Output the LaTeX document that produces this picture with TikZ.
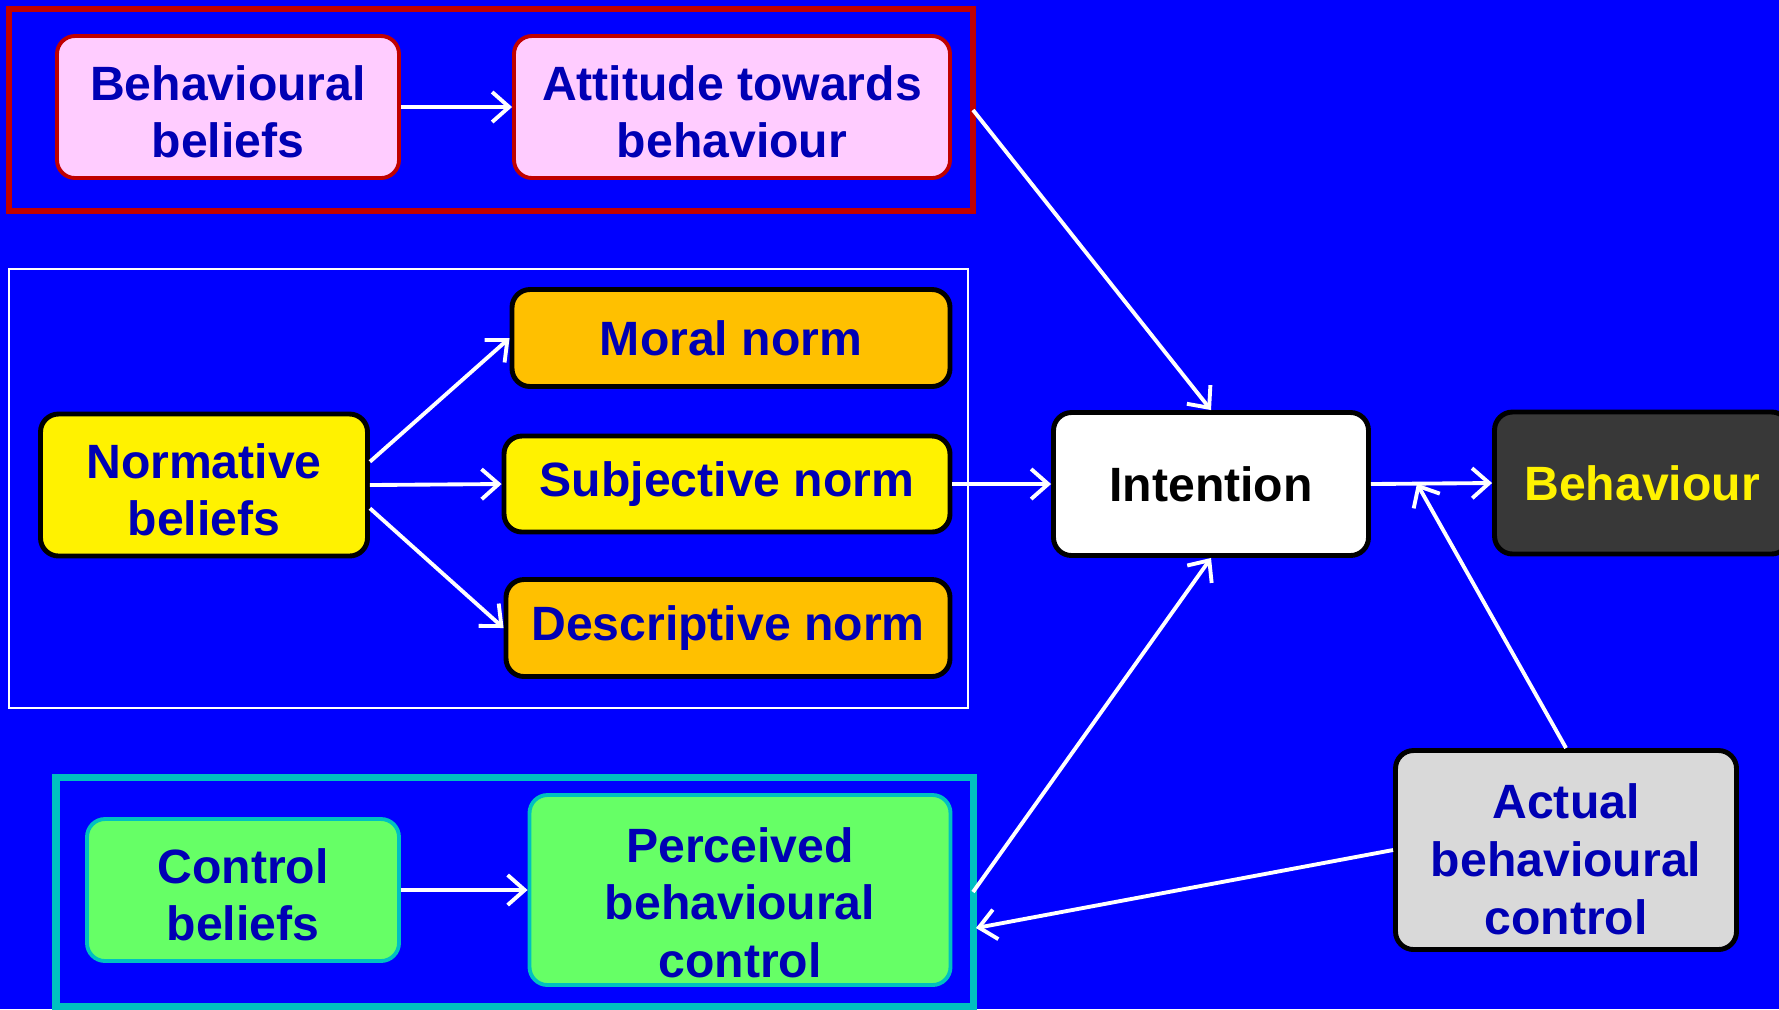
\documentclass[tikz,border=0pt]{standalone}
\usepackage{fontspec}
\setmainfont{Liberation Sans}
\usepackage{tikz}
\usetikzlibrary{arrows.meta}
\usetikzlibrary{calc}
\definecolor{slideblue}{RGB}{0,0,255}
\definecolor{textblue}{RGB}{0,0,180}
\definecolor{darkred}{RGB}{192,0,0}
\definecolor{pinkfill}{RGB}{255,204,255}
\definecolor{orangefill}{RGB}{255,192,0}
\definecolor{greenfill}{RGB}{102,255,102}
\definecolor{cyanline}{RGB}{0,192,192}
\definecolor{lightgrey}{RGB}{217,217,217}
\definecolor{darkgrey}{RGB}{56,56,56}
% taller first line, pushes the text a bit down
\newcommand{\firstline}[1]{\rule{0pt}{#1}}
\tikzset{
    box/.style={draw, rounded corners=1.8mm, align=center, inner sep=0pt,
        font=\fontsize{13.7}{16.4}\selectfont\bfseries, text=textblue},
    attbox/.style={box, fill=pinkfill, draw=darkred, line width=1.1pt},
    normbox/.style={box, fill=orangefill, draw=black, line width=1.4pt},
    yellowbox/.style={box, fill=yellow, draw=black, line width=1.4pt},
    controlbox/.style={box, fill=greenfill, draw=cyanline, line width=1.1pt},
    link/.style={draw=white, line width=1.1pt, -{Straight Barb[length=1.7mm,width=3mm]}},
}

\begin{document}
\begin{tikzpicture}
	\useasboundingbox (0,0) rectangle (17.79,-10.09);
	\fill[slideblue] (0,0) rectangle (17.79,-10.09);
	% frames
	\draw[darkred, line width=1.8pt] (0.09,-0.09) rectangle (9.73,-2.11);
	\draw[white, line width=0.8pt] (0.09,-2.69) rectangle (9.68,-7.08);
	\draw[cyanline, line width=2pt] (0.56,-7.77) rectangle (9.73,-10.06);
	% attitude
	\node[attbox, minimum width=3.42cm, minimum height=1.42cm] (bb) at (2.28,-1.07) {\firstline{12.6pt}Behavioural\\beliefs};
	\node[attbox, minimum width=4.36cm, minimum height=1.42cm] (att) at (7.32,-1.07) {\firstline{12.6pt}Attitude towards\\behaviour};
	% norms
	\node[yellowbox, minimum width=3.27cm, minimum height=1.42cm] (nb) at (2.04,-4.85) {\firstline{12.6pt}Normative\\beliefs};
	\node[normbox, minimum width=4.38cm, minimum height=0.97cm] (moral) at (7.31,-3.38) {Moral norm};
	\node[yellowbox, minimum width=4.46cm, minimum height=0.96cm] (subj) at (7.27,-4.84) {Subjective norm};
	\node[normbox, minimum width=4.44cm, minimum height=0.97cm] (descr) at (7.28,-6.28) {Descriptive norm};
	% control
	\node[controlbox, minimum width=3.12cm, minimum height=1.42cm] (cb) at (2.43,-8.90) {\firstline{12.6pt}Control\\beliefs};
	\node[controlbox, minimum width=4.21cm, minimum height=1.90cm] (pbc) at (7.40,-8.90) {\firstline{17pt}Perceived\\behavioural\\control};
	% intention and behaviour
	\node[box, fill=white, line width=1.4pt, text=black, minimum width=3.15cm, minimum height=1.43cm] (int) at (12.11,-4.84) {Intention};
	\node[box, fill=darkgrey, line width=1.4pt, text=yellow, minimum width=2.95cm, minimum height=1.42cm] (beh) at (16.42,-4.83) {Behaviour};
	\node[box, fill=lightgrey, line width=1.4pt, minimum width=3.41cm, minimum height=1.99cm] (abc) at (15.66,-8.50) {\firstline{15.2pt}Actual\\behavioural\\control};
	% free ends on the frames
	\coordinate (attout) at (9.73,-1.10);
	\coordinate (pbcout) at (9.73,-8.92);
	\coordinate (pbcin) at (9.76,-9.28);
	\coordinate (join) at ($(int.east)!0.38!(beh.west)$);
	% arrows
	\draw[link] (bb) -- (att);
	\draw[link] (attout) -- (int.north);
	\draw[link] (nb.8) -- (moral.west);
	\draw[link] (nb.east) -- (subj.west);
	\draw[link] (nb.-8) -- (descr.west);
	\draw[link] (subj.east) -- (int.west);
	\draw[link] (int.east) -- (beh.west);
	\draw[link] (cb) -- (pbc);
	\draw[link] (pbcout) -- (int.south);
	\draw[link] (abc.north) -- (join);
	\draw[link] (abc.west) -- (pbcin);
\end{tikzpicture}
\end{document}
